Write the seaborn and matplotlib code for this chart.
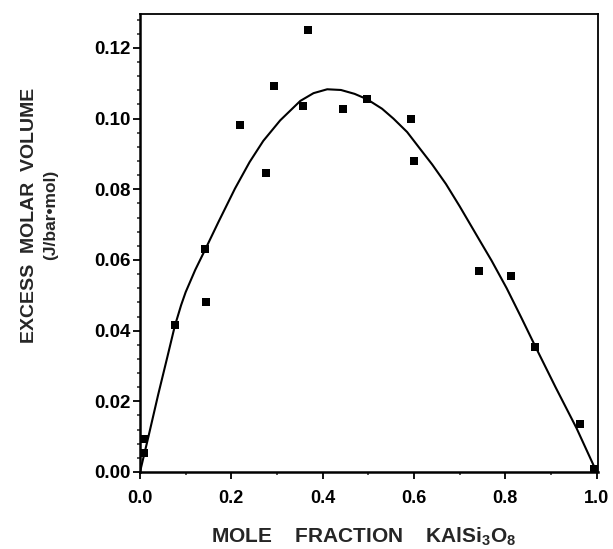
import matplotlib
matplotlib.use("Agg")
import matplotlib.pyplot as plt
from matplotlib.ticker import MultipleLocator, FormatStrFormatter
import seaborn as sns

# measured points: mole fraction KAlSi3O8 vs excess molar volume (J/bar.mol)
x_obs = [0.008, 0.008, 0.076, 0.143, 0.145, 0.220, 0.277, 0.294, 0.357, 0.369,
         0.445, 0.497, 0.593, 0.601, 0.742, 0.812, 0.866, 0.963, 0.994]
v_obs = [0.0093, 0.0053, 0.0416, 0.0632, 0.0481, 0.0982, 0.0845, 0.1092, 0.1036, 0.1251,
         0.1028, 0.1055, 0.0998, 0.0879, 0.0570, 0.0554, 0.0353, 0.0135, 0.0008]

# fitted curve
x_fit = [0.000, 0.019, 0.040, 0.060, 0.076, 0.090, 0.100, 0.121, 0.143, 0.172,
         0.208, 0.240, 0.270, 0.307, 0.351, 0.380, 0.410, 0.440, 0.470, 0.497,
         0.530, 0.555, 0.585, 0.613, 0.640, 0.670, 0.700, 0.744, 0.770, 0.803,
         0.835, 0.867, 0.910, 0.956, 1.000]
v_fit = [0.0000, 0.0103, 0.0220, 0.0326, 0.0412, 0.0472, 0.0509, 0.0572, 0.0630, 0.0708,
         0.0802, 0.0877, 0.0937, 0.0995, 0.1050, 0.1072, 0.1083, 0.1081, 0.1070, 0.1055,
         0.1028, 0.1000, 0.0962, 0.0915, 0.0870, 0.0815, 0.0752, 0.0655, 0.0598, 0.0520,
         0.0437, 0.0352, 0.0240, 0.0124, 0.0000]

x_ticks = [0.0, 0.2, 0.4, 0.6, 0.8, 1.0]
y_ticks = [0.00, 0.02, 0.04, 0.06, 0.08, 0.10, 0.12]

sns.set_style("ticks")
plt.rcParams['font.family'] = ['Liberation Sans', 'DejaVu Sans']
plt.rcParams['font.weight'] = 'bold'
plt.rcParams['mathtext.fontset'] = 'custom'
plt.rcParams['mathtext.rm'] = 'Liberation Sans:bold'
plt.rcParams['mathtext.bf'] = 'Liberation Sans:bold'

fig = plt.figure(figsize=(6.13, 5.49), dpi=100)
ax = fig.add_axes([140 / 613, 77 / 549, 458 / 613, 458 / 549])

sns.lineplot(x=x_fit, y=v_fit, color='black', linewidth=1.5, estimator=None, ax=ax)
sns.scatterplot(x=x_obs, y=v_obs, marker='s', s=40, color='black', edgecolor='black',
                linewidth=0, zorder=3, ax=ax)

ax.set_xlim(0, 1.003)
ax.set_ylim(0, 0.1296)
ax.set_xticks(x_ticks)
ax.set_yticks(y_ticks)
ax.xaxis.set_major_formatter(FormatStrFormatter('%.1f'))
ax.yaxis.set_major_formatter(FormatStrFormatter('%.2f'))
ax.xaxis.set_minor_locator(MultipleLocator(0.1))
ax.yaxis.set_minor_locator(MultipleLocator(0.004))
ax.tick_params(axis='both', which='major', direction='out', length=5, width=1.3,
               colors='black')
ax.tick_params(axis='both', which='minor', direction='out', length=2.5, width=1.1)
ax.tick_params(axis='y', which='major', pad=1.5, labelsize=13.5)
ax.tick_params(axis='x', which='major', pad=8, labelsize=13)
for lab in ax.get_xticklabels() + ax.get_yticklabels():
    lab.set_fontweight('bold')

for side in ['left', 'bottom']:
    ax.spines[side].set_linewidth(1.8)
for side in ['top', 'right']:
    ax.spines[side].set_linewidth(1.3)
    ax.spines[side].set_visible(True)
for sp in ax.spines.values():
    sp.set_color('black')

fig.text(30 / 613, 1 - 215 / 549, "EXCESS  MOLAR  VOLUME", rotation=90,
         ha='center', va='center', fontsize=14, fontweight='bold')
fig.text(51 / 613, 1 - 215 / 549, "(J/bar\u2022mol)", rotation=90,
         ha='center', va='center', fontsize=12.5, fontweight='bold')
fig.text(364 / 613, 1 - 537 / 549,
         r"MOLE    FRACTION    KAlSi$_{\mathbf{3}}$O$_{\mathbf{8}}$",
         ha='center', va='center', fontsize=15, fontweight='bold')

fig.savefig("out.png", dpi=100)
